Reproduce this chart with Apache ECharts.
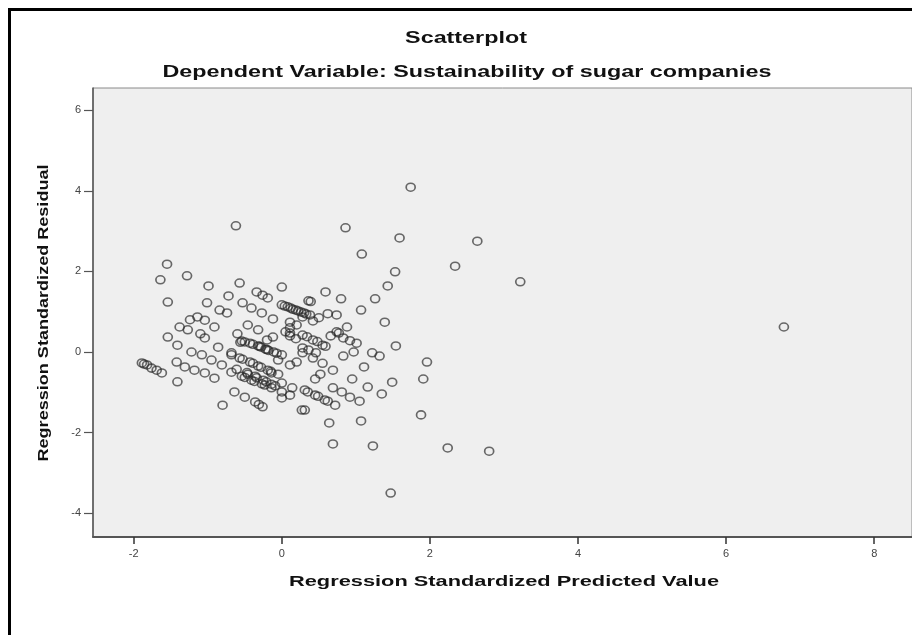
<!DOCTYPE html>
<html>
<head>
<meta charset="utf-8">
<script src="https://cdn.jsdelivr.net/npm/echarts@6/dist/echarts.min.js"></script>
<style>
  html, body { margin: 0; padding: 0; background: #fff; }
  #frame { position: absolute; left: 8px; top: 8px; width: 904px; height: 627px;
           border-left: 3px solid #000; border-top: 3px solid #000; }
  #chart { position: absolute; left: 0; top: 0; width: 912px; height: 635px; }
</style>
</head>
<body>
<div id="frame"></div>
<div id="chart"></div>
<script>
// Regression Standardized Predicted Value (x) / Regression Standardized Residual (y)
var predicted = [
  -0.62, 1.74, 0.86, 1.59, 1.08, 2.64, 2.34, 3.22, 6.78,
  -1.55, -1.64, -1.28, -1.54, 1.53, 1.43, 1.26,
  1.96, 1.91, 1.88, 2.24, 2.80, 1.47, 0.69, 1.23, 0.64, 1.07,
  0.59, 0.80, 1.07, 0.74, 1.39, 1.54, 1.49, 1.35, 0.31,
  -0.99, -0.57, 0.00, -0.72, -1.01, -0.53, -1.54, -1.41, -1.41, -0.80, 0.11, -0.12,
  -0.34, -0.26, -0.19,
  0.00, 0.08, 0.15, 0.22, 0.30, 0.38, 0.36, 0.39,
  -0.84, -0.74, -0.41, -0.27,
  -1.14, -1.04, -0.91, -1.38, -1.27, -0.46, -0.32,
  0.28, 0.42, 0.74, 0.77, 0.83, 0.92, 1.01,
  0.28, 0.42, 0.55, 0.11, 0.20, 0.11, 0.19,
  -1.04, -0.86, -0.68,
  -0.54, -0.50, -0.43, -0.39, -0.32, -0.28, -0.22, -0.18, -0.11, -0.07, 0.00, -0.05,
  -0.12, -1.22, -1.08, -0.95, -0.81,
  -0.68, -0.57, -0.53, -0.43, -0.39, -0.32, -0.28, -0.19, -0.15, -0.05, -0.14,
  -1.89, -1.86, -1.82, -1.76, -1.69, -1.62,
  -1.42, -1.31, -1.18, -1.04, -0.91,
  -0.68, -0.54, -0.50, -0.41, -0.37, -0.27, -0.23, -0.14, 0.00, 0.11,
  -0.64, -0.50, -0.36, -0.26, -0.31,
  0.00, 0.14, 0.00, 0.27,
  0.31, 0.45, 0.58, 0.72, 0.69, 0.81, 0.92, 1.05, 0.45, 0.95, 1.16,
  0.28, 0.42, 0.55, 0.69, 0.83, 1.22, 1.32, 1.11, 0.11, 0.20,
  0.28, 0.36, 0.11, 0.46, 0.50, 0.62, 0.66,
  -1.24, -1.10, -0.60, -0.20, 0.05, 0.52, 0.88, 0.97,
  // overlapping marks in the darkest bands
  -0.47, -0.36, -0.25, -0.14, -0.61, -0.46, -0.34, -0.21, -0.09,
  0.04, 0.12, 0.19, 0.26, 0.33, 0.34, 0.48, 0.59,
  0.35, 0.49, 0.62, -0.30, -0.56, -0.20
];
var residual = [
  3.13, 4.09, 3.08, 2.83, 2.43, 2.75, 2.13, 1.74, 0.62,
  2.18, 1.79, 1.89, 1.24, 1.99, 1.64, 1.32,
  -0.25, -0.67, -1.56, -2.38, -2.46, -3.50, -2.28, -2.33, -1.76, -1.71,
  1.49, 1.32, 1.04, 0.92, 0.74, 0.15, -0.75, -1.04, -1.44,
  1.64, 1.71, 1.61, 1.39, 1.22, 1.22, 0.37, 0.17, -0.74, -1.32, 0.60, 0.82,
  1.49, 1.41, 1.34,
  1.17, 1.12, 1.06, 1.02, 0.97, 0.92, 1.27, 1.25,
  1.04, 0.97, 1.09, 0.97,
  0.87, 0.79, 0.62, 0.62, 0.55, 0.67, 0.55,
  0.87, 0.77, 0.50, 0.47, 0.35, 0.28, 0.22,
  0.42, 0.30, 0.17, 0.74, 0.67, 0.40, 0.33,
  0.35, 0.12, -0.02,
  0.27, 0.25, 0.22, 0.19, 0.15, 0.12, 0.07, 0.04, 0.00, -0.03, -0.07, -0.20,
  0.37, 0.00, -0.07, -0.20, -0.32,
  -0.07, -0.15, -0.18, -0.25, -0.28, -0.35, -0.38, -0.45, -0.48, -0.55, -0.52,
  -0.27, -0.30, -0.32, -0.40, -0.45, -0.52,
  -0.25, -0.37, -0.45, -0.52, -0.65,
  -0.50, -0.60, -0.63, -0.70, -0.73, -0.79, -0.82, -0.89, -0.99, -1.07,
  -0.99, -1.12, -1.24, -1.36, -1.30,
  -0.77, -0.89, -1.14, -1.44,
  -0.94, -1.07, -1.19, -1.32, -0.89, -0.99, -1.12, -1.22, -0.67, -0.67, -0.87,
  -0.02, -0.15, -0.28, -0.45, -0.10, -0.02, -0.10, -0.37, -0.32, -0.25,
  0.10, 0.05, 0.47, -0.02, 0.85, 0.95, 0.40,
  0.80, 0.45, 0.45, 0.30, 0.50, -0.55, 0.62, 0.00,
  -0.51, -0.60, -0.70, -0.80, -0.43, -0.55, -0.64, -0.74, -0.84,
  1.14, 1.09, 1.04, 0.99, 0.94, 0.38, 0.26, 0.14,
  -0.99, -1.10, -1.22, 0.14, 0.24, 0.06
];
var xTicks = [-2, 0, 2, 4, 6, 8];
var yTicks = [-4, -2, 0, 2, 4, 6];

var titleText = 'Scatterplot';
var subtitleText = 'Dependent Variable: Sustainability of sugar companies';
var xName = 'Regression Standardized Predicted Value';
var yName = 'Regression Standardized Residual';

var points = predicted.map(function (x, i) { return [x, residual[i]]; });

// the original uses wide, letter-spaced bold text: stretch it to the same width
var ctx = document.createElement('canvas').getContext('2d');
function wideText(text, font, cx, cy, width, rotation) {
  ctx.font = font;
  return {
    type: 'text', x: cx, y: cy, rotation: rotation || 0, silent: true,
    scaleX: width / ctx.measureText(text).width,
    style: { text: text, font: font, fill: '#111', align: 'center', verticalAlign: 'middle' }
  };
}
var headFont = 'bold 16px "Liberation Sans"';
var headScale = (function () { ctx.font = headFont; return 609 / ctx.measureText(subtitleText).width; })();
ctx.font = headFont;

var chart = echarts.init(document.getElementById('chart'));
chart.setOption({
  animation: false,
  graphic: [
    wideText(titleText, headFont, 466, 39, ctx.measureText(titleText).width * headScale),
    wideText(subtitleText, headFont, 467, 73, 609),
    wideText(xName, 'bold 15px "Liberation Sans"', 504, 582, 430),
    wideText(yName, 'bold 15px "Liberation Sans"', 44, 313, 297, Math.PI / 2)
  ],
  grid: {
    left: 93, top: 88, right: 0, bottom: 98,
    show: true, backgroundColor: '#efefef', borderColor: '#8a8a8a', borderWidth: 1
  },
  xAxis: {
    type: 'value', min: -2.55, max: 8.51,
    splitLine: { show: false },
    axisLine: { onZero: false, lineStyle: { color: '#555', width: 2 } },
    axisTick: { customValues: xTicks, length: 7, lineStyle: { color: '#333', width: 1.5 } },
    axisLabel: { customValues: xTicks, margin: 11, fontFamily: 'Liberation Sans', fontSize: 11, color: '#444' }
  },
  yAxis: {
    type: 'value', min: -4.59, max: 6.55,
    splitLine: { show: false },
    axisLine: { onZero: false, lineStyle: { color: '#555', width: 1.5 } },
    axisTick: { customValues: yTicks, length: 9, lineStyle: { color: '#555', width: 1.2 } },
    axisLabel: { customValues: yTicks, margin: 12, fontFamily: 'Liberation Sans', fontSize: 11, color: '#444' }
  },
  series: [{
    type: 'scatter',
    data: points,
    symbol: 'circle',
    symbolSize: [9, 8],
    itemStyle: { color: 'rgba(0,0,0,0)', borderColor: 'rgba(40,40,40,0.85)', borderWidth: 1.6 }
  }]
});
</script>
</body>
</html>
